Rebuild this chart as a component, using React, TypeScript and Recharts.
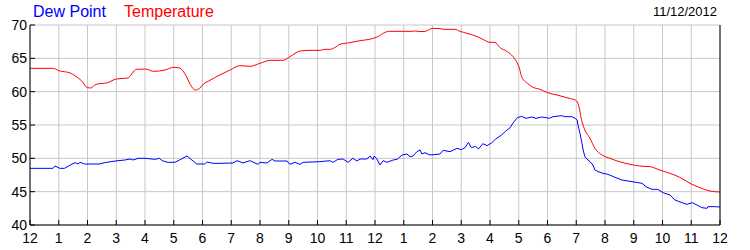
import { LineChart, Line, XAxis, YAxis, CartesianGrid, Legend } from "recharts";

// hours since midnight, 0..24
const HOUR_TICKS = [0, 1, 2, 3, 4, 5, 6, 7, 8, 9, 10, 11, 12, 13, 14, 15, 16, 17, 18, 19, 20, 21, 22, 23, 24];
const DEG_TICKS = [40, 45, 50, 55, 60, 65, 70];
const DATE_LABEL = "11/12/2012";

const DEW_NAME = "Dew Point";
const TEMP_NAME = "Temperature";

const TEMP_HOURS = [
  0, 0.8, 1.0, 1.4, 1.6, 1.8, 2.0, 2.1, 2.3, 2.7, 3.0, 3.4, 3.7, 4.0, 4.3, 4.7, 5.0, 5.2, 5.4, 5.6,
  5.75, 5.9, 6.0, 6.26, 6.6, 6.96, 7.3, 7.65, 8.0, 8.35, 8.8, 9.04, 9.4, 9.74, 10.1, 10.26, 10.43, 10.6, 10.78, 11.13,
  11.48, 11.8, 12.1, 12.35, 12.5, 13.3, 13.4, 13.6, 13.75, 13.9, 14.0, 14.26, 14.4, 14.78, 14.96, 15.2, 15.5, 15.75, 16.0, 16.17,
  16.35, 16.6, 16.8, 17.04, 17.1, 17.3, 17.5, 17.74, 18.0, 18.33, 18.54, 18.8, 18.96, 19.06, 19.2, 19.3, 19.48, 19.65, 19.9, 20.17,
  20.5, 20.87, 21.2, 21.57, 21.9, 22.26, 22.6, 22.96, 23.3, 23.65, 24.0,
];
const TEMP_VALUES = [
  63.5, 63.5, 63.15, 62.8, 62.3, 61.6, 60.6, 60.55, 61.1, 61.35, 61.9, 62.05, 63.35, 63.4, 63.05, 63.25, 63.65, 63.55, 62.6, 60.9,
  60.25, 60.5, 61.0, 61.7, 62.5, 63.25, 63.9, 63.8, 64.25, 64.7, 64.7, 65.25, 66.1, 66.2, 66.2, 66.35, 66.35, 66.6, 67.1, 67.35,
  67.65, 67.85, 68.25, 68.9, 69.05, 69.05, 69.1, 69.0, 69.05, 69.35, 69.5, 69.45, 69.35, 69.35, 69.05, 68.75, 68.35, 67.85, 67.4, 67.4,
  66.6, 66.0, 65.25, 63.25, 62.25, 61.25, 60.65, 60.35, 59.85, 59.5, 59.25, 58.95, 58.75, 58.25, 55.5, 54.25, 53.0, 51.5, 50.5, 50.0,
  49.5, 49.1, 48.85, 48.75, 48.25, 47.75, 47.15, 46.25, 45.6, 45.1, 44.95,
];

const DEW_HOURS = [
  0, 0.8, 0.87, 1.04, 1.2, 1.4, 1.57, 1.67, 1.74, 1.9, 2.4, 2.6, 2.96, 3.3, 3.48, 3.58, 3.76, 4.0, 4.35, 4.5,
  4.6, 4.8, 5.04, 5.2, 5.46, 5.63, 5.8, 6.08, 6.15, 6.37, 6.61, 7.06, 7.2, 7.41, 7.65, 7.93, 8.0, 8.24, 8.42, 8.52,
  8.94, 9.04, 9.22, 9.39, 9.5, 10.09, 10.43, 10.54, 10.71, 10.89, 11.06, 11.23, 11.37, 11.48, 11.72, 11.83, 11.93, 11.97, 12.07, 12.17,
  12.28, 12.42, 12.63, 12.77, 12.94, 13.11, 13.22, 13.32, 13.46, 13.57, 13.63, 13.74, 13.91, 14.26, 14.37, 14.61, 14.85, 15.0, 15.13, 15.25,
  15.35, 15.5, 15.6, 15.75, 15.9, 16.05, 16.2, 16.4, 16.55, 16.7, 16.8, 16.95, 17.1, 17.25, 17.45, 17.6, 17.8, 17.95, 18.06, 18.19,
  18.5, 18.6, 18.85, 18.96, 19.03, 19.06, 19.13, 19.2, 19.24, 19.3, 19.37, 19.48, 19.58, 19.65, 19.76, 19.93, 20.1, 20.35, 20.59, 20.94,
  21.29, 21.46, 21.64, 21.84, 22.02, 22.26, 22.43, 22.68, 22.85, 23.03, 23.2, 23.37, 23.55, 23.58, 23.83, 24.0,
];
const DEW_VALUES = [
  48.5, 48.5, 48.85, 48.5, 48.5, 49.0, 49.35, 49.15, 49.4, 49.15, 49.15, 49.35, 49.6, 49.75, 49.9, 49.75, 50.0, 50.0, 49.85, 50.0,
  49.65, 49.4, 49.4, 49.75, 50.35, 49.75, 49.15, 49.15, 49.45, 49.25, 49.25, 49.3, 49.65, 49.3, 49.65, 49.1, 49.4, 49.3, 49.85, 49.6,
  49.6, 49.1, 49.4, 49.1, 49.4, 49.5, 49.65, 49.4, 49.85, 49.9, 49.4, 50.0, 49.6, 49.9, 49.9, 50.35, 49.8, 50.35, 49.9, 49.0,
  49.65, 49.4, 49.75, 49.85, 50.5, 50.65, 50.25, 50.35, 51.0, 51.25, 50.65, 50.85, 50.5, 50.65, 51.2, 51.0, 51.5, 51.3, 51.6, 52.4,
  51.6, 51.8, 51.4, 52.2, 51.9, 52.3, 52.9, 53.5, 54.1, 54.6, 55.3, 56.1, 56.3, 56.0, 56.2, 56.0, 56.2, 56.1, 56.0, 56.25,
  56.4, 56.25, 56.25, 56.0, 55.75, 55.0, 53.75, 52.25, 51.25, 50.25, 49.9, 49.5, 49.0, 48.25, 48.0, 47.75, 47.6, 47.15, 46.75, 46.5,
  46.25, 45.65, 45.35, 45.35, 44.85, 44.5, 43.75, 43.35, 43.1, 43.35, 43.0, 42.6, 42.5, 42.75, 42.75, 42.7,
];

// one table for the chart: every sampled hour, with whichever readings exist there
const chartData = (() => {
  const rows = new Map<number, { h: number; temp?: number; dew?: number }>();
  TEMP_HOURS.forEach((h, i) => {
    const r = rows.get(h) || { h };
    r.temp = TEMP_VALUES[i];
    rows.set(h, r);
  });
  DEW_HOURS.forEach((h, i) => {
    const r = rows.get(h) || { h };
    r.dew = DEW_VALUES[i];
    rows.set(h, r);
  });
  return Array.from(rows.values()).sort((a, b) => a.h - b.h);
})();

// plot box, used for the inward tick marks
const PLOT = { left: 30, right: 720, top: 25, bottom: 225 };
const FONT = "'Liberation Sans', Arial, sans-serif";
const AXIS_FONT_SIZE = 14;

const hourLabel = (h: number) => String(h % 12 === 0 ? 12 : h % 12);

function BottomTick({ x, payload }: any) {
  return (
    <g>
      <line x1={x} x2={x} y1={PLOT.bottom} y2={PLOT.bottom - 5} stroke="#000" />
      <text x={x} y={PLOT.bottom + 18} textAnchor="middle" fontSize={AXIS_FONT_SIZE} fill="#000" fontFamily={FONT}>
        {hourLabel(payload.value)}
      </text>
    </g>
  );
}

function TopTick({ x }: any) {
  return <line x1={x} x2={x} y1={PLOT.top} y2={PLOT.top + 5} stroke="#000" />;
}

function LeftTick({ y, payload }: any) {
  return (
    <g>
      <line x1={PLOT.left} x2={PLOT.left + 5} y1={y} y2={y} stroke="#000" />
      <text x={PLOT.left - 3} y={y + 5} textAnchor="end" fontSize={AXIS_FONT_SIZE} fill="#000" fontFamily={FONT}>
        {payload.value}
      </text>
    </g>
  );
}

function RightTick({ y, payload }: any) {
  return (
    <g>
      <line x1={PLOT.right} x2={PLOT.right - 5} y1={y} y2={y} stroke="#000" />
      <text x={PLOT.right + 7} y={y + 5} textAnchor="start" fontSize={AXIS_FONT_SIZE} fill="#000" fontFamily={FONT}>
        {payload.value}
      </text>
    </g>
  );
}

function LegendContent({ payload }: any) {
  const lefts = [33, 124];
  return (
    <div style={{ position: "relative", width: 750, height: 25, fontFamily: FONT }}>
      {(payload || []).map((p: any, i: number) => (
        <span
          key={p.value}
          style={{ position: "absolute", left: lefts[i], top: 2, fontSize: 16, lineHeight: "20px", color: p.color, whiteSpace: "nowrap" }}
        >
          {p.value}
        </span>
      ))}
      <span style={{ position: "absolute", right: 33, top: 4, fontSize: 13, lineHeight: "16px", color: "#000" }}>
        {DATE_LABEL}
      </span>
    </div>
  );
}

export default function App() {
  return (
    <div style={{ position: "absolute", left: 0, top: 0, background: "#fff" }}>
      <LineChart width={750} height={250} data={chartData} margin={{ top: 25, right: 0, bottom: 0, left: 0 }}>
        <CartesianGrid stroke="#c8c8c8" />
        <XAxis
          dataKey="h"
          type="number"
          domain={[0, 24]}
          ticks={HOUR_TICKS}
          interval={0}
          height={25}
          axisLine={{ stroke: "#000" }}
          tickLine={false}
          tickSize={0}
          tick={<BottomTick />}
        />
        <XAxis
          xAxisId="top"
          orientation="top"
          dataKey="h"
          type="number"
          domain={[0, 24]}
          ticks={HOUR_TICKS}
          interval={0}
          height={0}
          axisLine={{ stroke: "#000" }}
          tickLine={false}
          tickSize={0}
          tick={<TopTick />}
        />
        <YAxis
          domain={[40, 70]}
          ticks={DEG_TICKS}
          interval={0}
          width={30}
          axisLine={{ stroke: "#000" }}
          tickLine={false}
          tickSize={0}
          tick={<LeftTick />}
        />
        <YAxis
          yAxisId="right"
          orientation="right"
          domain={[40, 70]}
          ticks={DEG_TICKS}
          interval={0}
          width={30}
          axisLine={{ stroke: "#000" }}
          tickLine={false}
          tickSize={0}
          tick={<RightTick />}
        />
        {/* centred + middle keeps the legend out of the plot offsets */}
        <Legend
          layout="horizontal"
          verticalAlign="middle"
          align="center"
          wrapperStyle={{ top: 0, left: 0, width: 750 }}
          content={<LegendContent />}
        />
        <Line
          dataKey="dew"
          name={DEW_NAME}
          type="linear"
          stroke="#0000ff"
          strokeWidth={1}
          dot={false}
          connectNulls
          isAnimationActive={false}
        />
        <Line
          dataKey="temp"
          name={TEMP_NAME}
          type="monotone"
          stroke="#ff0000"
          strokeWidth={1}
          dot={false}
          connectNulls
          isAnimationActive={false}
        />
      </LineChart>
    </div>
  );
}
